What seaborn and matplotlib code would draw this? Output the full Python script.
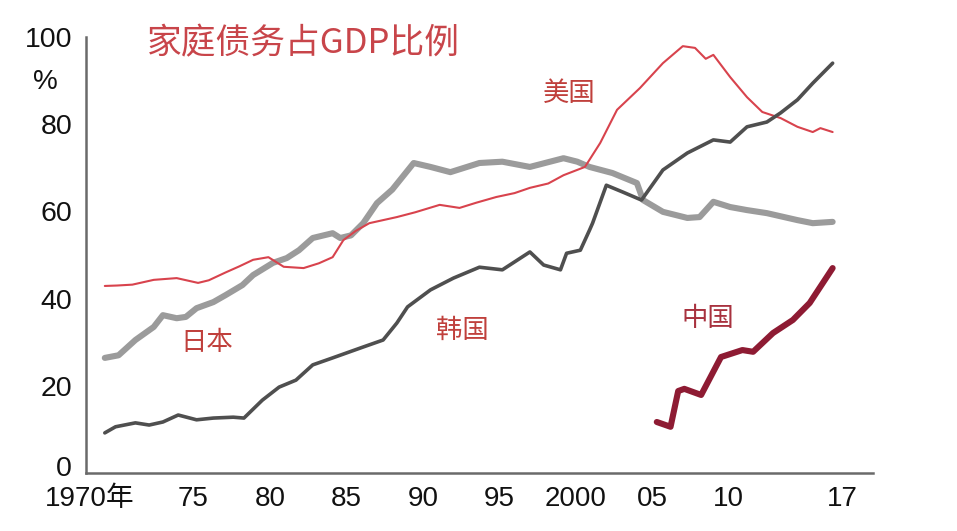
import matplotlib
matplotlib.use("Agg")
import matplotlib.pyplot as plt
import matplotlib.transforms as mtransforms
import seaborn as sns
import pandas as pd

# ---------------- data ----------------
us_years = [1969.2, 1970.0, 1971.0, 1972.4, 1973.9, 1975.3, 1976.0, 1977.1, 1978.0, 1978.9,
            1979.9, 1980.9, 1982.2, 1983.2, 1984.1, 1984.8, 1985.6, 1986.5, 1988.3, 1989.5,
            1991.1, 1992.4, 1993.5, 1994.8, 1996.0, 1997.0, 1998.2, 1999.2, 2000.6, 2001.6,
            2002.7, 2004.2, 2005.7, 2007.0, 2007.8, 2008.5, 2009.0, 2010.1, 2011.2, 2012.2,
            2013.4, 2014.5, 2015.5, 2016.0, 2016.8]
us_values = [42.9, 43.0, 43.2, 44.3, 44.7, 43.6, 44.2, 46.0, 47.4, 48.9,
             49.5, 47.3, 47.0, 48.1, 49.5, 53.4, 55.5, 57.3, 58.7, 59.8,
             61.5, 60.8, 62.0, 63.3, 64.2, 65.4, 66.4, 68.3, 70.2, 75.7,
             83.3, 88.3, 94.0, 97.9, 97.5, 95.0, 95.9, 90.8, 86.2, 82.8,
             81.4, 79.4, 78.2, 79.1, 78.2]

jp_years = [1969.2, 1970.1, 1971.2, 1972.4, 1973.0, 1973.9, 1974.5, 1975.2, 1976.3, 1977.1,
            1978.2, 1978.9, 1980.2, 1981.1, 1981.9, 1982.8, 1984.1, 1984.6, 1985.3, 1986.1,
            1987.0, 1988.0, 1989.4, 1990.5, 1991.8, 1993.7, 1995.2, 1997.0, 1999.2, 2000.1,
            2000.9, 2002.4, 2004.0, 2004.4, 2005.7, 2007.3, 2008.1, 2009.0, 2010.1, 2011.2,
            2012.5, 2014.5, 2015.5, 2016.8]
jp_values = [26.4, 27.0, 30.5, 33.5, 36.2, 35.5, 35.8, 37.8, 39.2, 40.8,
             43.1, 45.4, 48.2, 49.3, 51.1, 53.9, 55.0, 53.9, 54.5, 57.3,
             61.9, 65.0, 71.1, 70.2, 69.0, 71.1, 71.4, 70.2, 72.2, 71.4,
             70.2, 68.8, 66.5, 62.6, 59.9, 58.5, 58.7, 62.2, 61.0, 60.3,
             59.6, 58.0, 57.3, 57.6]

kr_years = [1969.2, 1969.9, 1971.2, 1972.1, 1973.0, 1974.0, 1975.2, 1976.3, 1977.6, 1978.3,
            1979.5, 1980.6, 1981.7, 1982.8, 1984.1, 1986.1, 1987.4, 1988.3, 1989.0, 1990.5,
            1992.0, 1993.7, 1995.2, 1997.0, 1997.9, 1999.0, 1999.4, 2000.3, 2000.9, 2001.1,
            2002.0, 2003.1, 2004.3, 2005.7, 2007.3, 2009.0, 2010.1, 2011.2, 2012.5, 2013.4,
            2014.5, 2015.5, 2016.8]
kr_values = [9.2, 10.6, 11.5, 11.0, 11.7, 13.3, 12.2, 12.6, 12.8, 12.6,
             16.7, 19.7, 21.3, 24.8, 26.4, 28.9, 30.5, 34.4, 38.1, 42.0,
             44.7, 47.2, 46.6, 50.7, 47.7, 46.6, 50.4, 51.1, 55.7, 57.3,
             66.0, 64.4, 62.6, 69.5, 73.4, 76.4, 75.9, 79.4, 80.5, 82.6,
             85.6, 89.4, 94.0]

cn_years = [2005.3, 2006.2, 2006.7, 2007.1, 2008.2, 2009.5, 2010.9, 2011.6, 2012.9, 2014.2,
            2015.3, 2016.8]
cn_values = [11.7, 10.6, 18.8, 19.3, 17.9, 26.6, 28.2, 27.8, 32.1, 35.1,
             39.0, 47.0]

major_years = [1970, 1975, 1980, 1985, 1990, 1995, 2000, 2005, 2010, 2017]
major_labels = ["1970年", "75", "80", "85", "90", "95", "2000", "05", "10", "17"]
minor_years = list(range(1970, 2018))
y_ticks = [0, 20, 40, 60, 80, 100]

title_text = "家庭债务占GDP比例"
names = ["美国", "日本", "韩国", "中国"]

# ---------------- style ----------------
sns.set_style("white")
plt.rcParams["font.family"] = ["Liberation Sans", "Noto Sans CJK SC", "DejaVu Sans"]

W, H = 957, 531
fig = plt.figure(figsize=(W / 100, H / 100), dpi=100)
ax = fig.add_axes([86 / W, (H - 473) / H, (873 - 86) / W, (473 - 37) / H])


def px(x, y):
    return x / W, (H - y) / H


series = [
    (jp_years, jp_values, "#9b9b9b", 4.4),
    (us_years, us_values, "#d8434d", 1.5),
    (kr_years, kr_values, "#4f4f4f", 2.6),
    (cn_years, cn_values, "#8e1b33", 4.4),
]
for yrs, vals, col, lw in series:
    df = pd.DataFrame({"year": yrs, "value": vals})
    sns.lineplot(data=df, x="year", y="value", ax=ax, color=col, linewidth=lw,
                 solid_joinstyle="round", solid_capstyle="round")

ax.set_xlim(1967.97, 2019.44)
ax.set_ylim(0, 100)
ax.set_xlabel("")
ax.set_ylabel("")

for s in ["top", "right"]:
    ax.spines[s].set_visible(False)
for s in ["left", "bottom"]:
    ax.spines[s].set_color("#6a6a6a")
    ax.spines[s].set_linewidth(1.8)

ax.set_yticks(y_ticks)
ax.set_yticklabels([str(v) for v in y_ticks])
ax.tick_params(axis="y", direction="in", length=12.5, width=1.6, color="#6a6a6a",
               labelsize=20.5, labelcolor="#111111", pad=10)

ax.set_xticks(major_years)
ax.set_xticklabels(major_labels)
ax.set_xticks([y for y in minor_years if y not in major_years], minor=True)
ax.tick_params(axis="x", which="both", direction="out", length=6, width=1.3,
               color="#6a6a6a", labelsize=20, labelcolor="#111111", pad=3)

# nudge labels like the reference
ylabs = ax.get_yticklabels()
ylabs[0].set_transform(ylabs[0].get_transform() +
                       mtransforms.ScaledTranslation(0, 0.07, fig.dpi_scale_trans))
labels = ax.get_xticklabels()
labels[0].set_transform(labels[0].get_transform() +
                        mtransforms.ScaledTranslation(-0.27, 0, fig.dpi_scale_trans))
labels[-1].set_transform(labels[-1].get_transform() +
                         mtransforms.ScaledTranslation(0.07, 0, fig.dpi_scale_trans))

fig.text(*px(45, 82), "%", ha="center", va="center", fontsize=20, color="#111111")

fig.text(*px(147, 44), title_text, ha="left", va="center", fontsize=25,
         color="#c8454a", family=["Noto Sans CJK SC"])

label_specs = [
    (names[0], 569, 93, "#c0403c"),
    (names[1], 207, 343, "#c0403c"),
    (names[2], 462, 330, "#c0403c"),
    (names[3], 708, 318, "#a8323f"),
]
for txt, x, y, col in label_specs:
    fig.text(*px(x, y), txt, ha="center", va="center", fontsize=19, color=col,
             family=["Noto Sans CJK SC"])

fig.savefig("out.png", dpi=100)
